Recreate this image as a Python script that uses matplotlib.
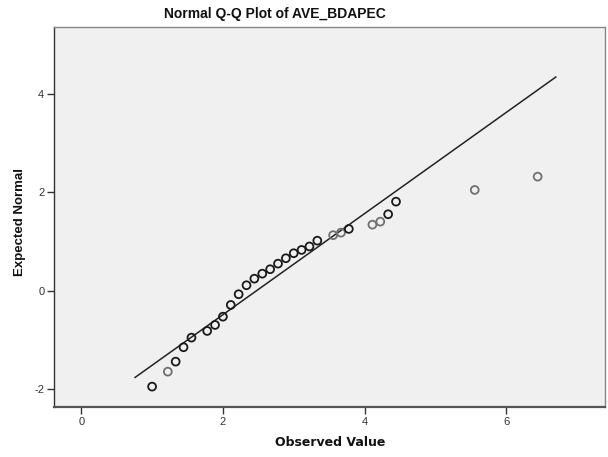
import matplotlib
matplotlib.use("Agg")
import matplotlib.pyplot as plt
import numpy as np

plt.rcParams["axes.unicode_minus"] = False

# Observed values and their expected normal quantiles
observed = [1.000, 1.222, 1.333, 1.444, 1.556, 1.778, 1.889, 2.000, 2.111,
            2.222, 2.333, 2.444, 2.556, 2.667, 2.778, 2.889, 3.000, 3.111,
            3.222, 3.333, 3.556, 3.667, 3.778, 4.111, 4.222, 4.333, 4.444,
            5.556, 6.444]
expected = [-1.955, -1.650, -1.446, -1.153, -0.957, -0.821, -0.699, -0.530,
            -0.291, -0.073, 0.110, 0.244, 0.346, 0.436, 0.550, 0.660, 0.762,
            0.829, 0.900, 1.018, 1.130, 1.181, 1.257, 1.344, 1.405, 1.556,
            1.813, 2.051, 2.322]
# number of cases sharing each observed value
counts = [2, 1, 2, 2, 2, 2, 2, 2, 2, 2, 2, 2, 2, 2, 2, 2, 2, 2, 2, 2,
          1, 1, 2, 1, 1, 2, 2, 1, 1]

# Reference line parameters (sample mean and standard deviation)
ref_mean = 2.476
ref_sd = 0.971
ref_x = [0.76, 6.70]

x_ticks = [0, 2, 4, 6]
y_ticks = [-2, 0, 2, 4]

fig = plt.figure(figsize=(6.08, 4.57), dpi=100)
ax = fig.add_axes([54 / 608, 1 - 407 / 457, (605 - 54) / 608, (407 - 27) / 457])
ax.set_facecolor("#F0F0F0")

ax.set_xlim(-0.385, 7.395)
ax.set_ylim(-2.37, 5.37)

rx = np.array(ref_x)
ax.plot(rx, (rx - ref_mean) / ref_sd, color="#222222", lw=1.1, zorder=2)

edge = ["#1a1a1a" if c > 1 else "#707070" for c in counts]
ax.scatter(observed, expected, s=32, facecolors="none", edgecolors=edge,
           linewidths=1.3, zorder=3)

ax.set_xticks(x_ticks)
ax.set_yticks(y_ticks)
ax.tick_params(axis="both", direction="out", length=5, width=1, color="#333333",
               labelsize=8, labelcolor="#333333", pad=2)
for lab in ax.get_xticklabels() + ax.get_yticklabels():
    lab.set_family("Liberation Sans")

for side in ["top", "right"]:
    ax.spines[side].set_color("#888888")
    ax.spines[side].set_linewidth(1)
ax.spines["left"].set_color("#333333")
ax.spines["left"].set_linewidth(1)
ax.spines["bottom"].set_color("#555555")
ax.spines["bottom"].set_linewidth(1.6)

fig.text(275 / 608, 1 - 14 / 457, "Normal Q-Q Plot of AVE_BDAPEC",
         ha="center", va="center", fontsize=10, fontweight="bold",
         family="Liberation Sans", color="#111111")
fig.text(330 / 608, 1 - 443 / 457, "Observed Value", ha="center", va="center",
         fontsize=9, fontweight="bold", family="DejaVu Sans", color="#111111")
fig.text(20 / 608, 1 - 222 / 457, "Expected Normal", ha="center", va="center",
         rotation=90, fontsize=9.5, fontweight="bold", family="Liberation Sans",
         color="#111111")

fig.savefig("out.png", dpi=100)
